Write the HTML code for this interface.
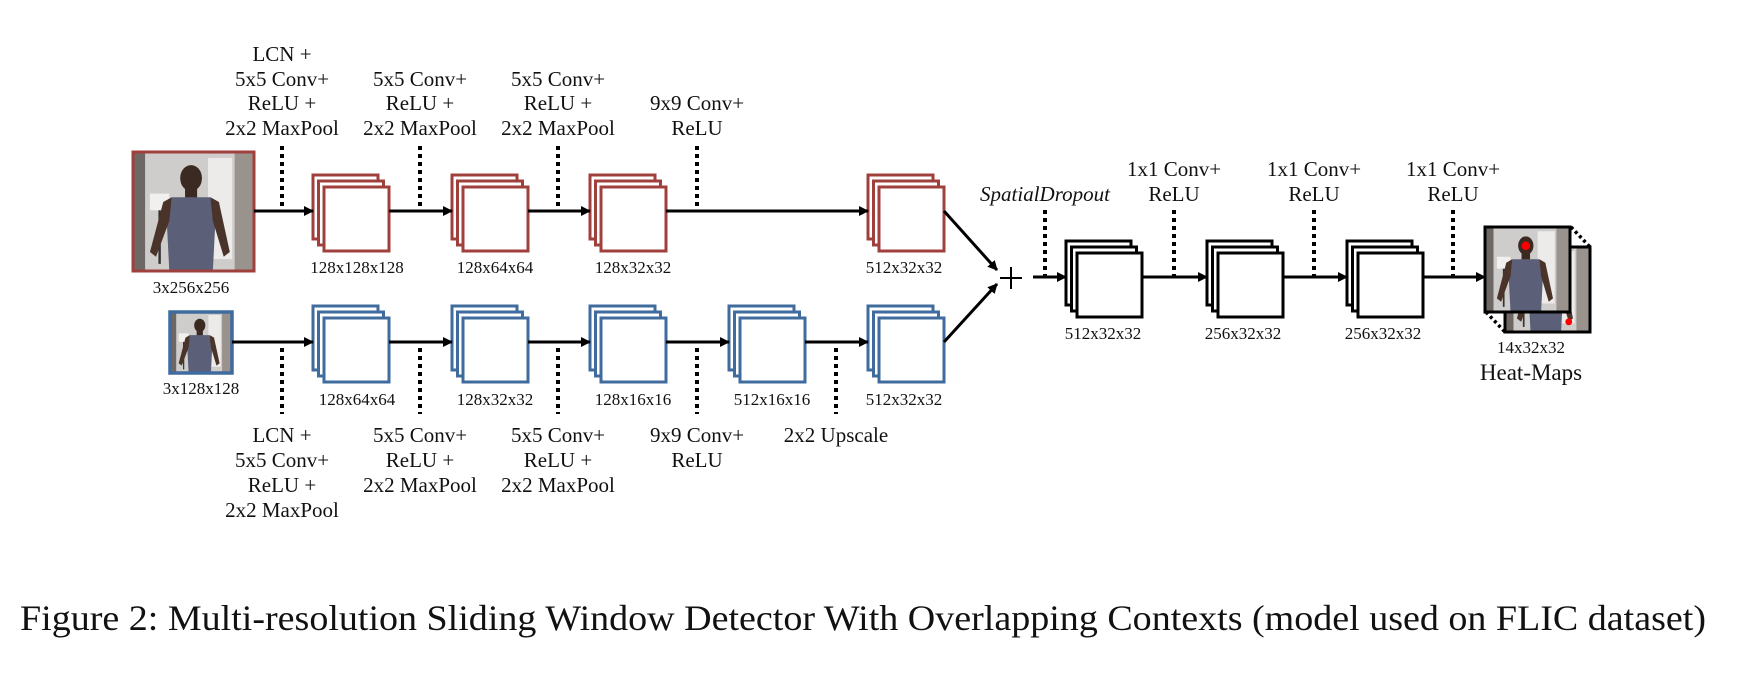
<!DOCTYPE html>
<html><head><meta charset="utf-8"><style>
html,body{margin:0;padding:0;background:#fff;}
svg{display:block;}
text{font-family:"Liberation Serif",serif;fill:#111;}
</style></head><body>
<svg width="1745" height="673" viewBox="0 0 1745 673" xmlns="http://www.w3.org/2000/svg">
<defs>
<marker id="ah" markerWidth="10" markerHeight="10" refX="9" refY="5" orient="auto" markerUnits="userSpaceOnUse">
<path d="M0,0 L10,5 L0,10 z" fill="#000"/>
</marker>
<g id="person">
<rect x="0" y="0" width="100" height="100" fill="#cfcdcb"/>
<rect x="0" y="0" width="10" height="100" fill="#6e6864"/>
<rect x="62" y="5" width="20" height="85" fill="#ecebea"/>
<rect x="84" y="0" width="16" height="100" fill="#9a928c"/>
<rect x="14" y="35" width="16" height="14" fill="#f2f0ee"/>
<rect x="21" y="49" width="2" height="45" fill="#333"/>
<ellipse cx="48" cy="22" rx="9" ry="11" fill="#3b2a22"/>
<rect x="43" y="31" width="10" height="8" fill="#3b2a22"/>
<path d="M32,38 L64,38 L68,60 L66,100 L30,100 L28,60 z" fill="#5b5f78"/>
<path d="M32,38 L25,42 L14,84 L19,88 L30,58 z" fill="#4a3328"/>
<path d="M64,38 L71,42 L80,84 L75,88 L66,58 z" fill="#4a3328"/>
</g>
</defs>

<!-- red input image -->
<svg x="133" y="152" width="121" height="119" viewBox="0 0 100 100" preserveAspectRatio="none"><use href="#person"/></svg>
<rect x="133" y="152" width="121" height="119" fill="none" stroke="#a0403c" stroke-width="3"/>
<text x="191" y="293" font-size="17" text-anchor="middle">3x256x256</text>

<!-- blue input image -->
<svg x="170" y="312" width="62" height="61" viewBox="0 0 100 100" preserveAspectRatio="none"><use href="#person"/></svg>
<rect x="170" y="312" width="62" height="61" fill="none" stroke="#3f6b9e" stroke-width="3.5"/>
<text x="201" y="394" font-size="17" text-anchor="middle">3x128x128</text>

<!-- red stacks -->
<g fill="#fff" stroke="#a0403c" stroke-width="3">
<rect x="313" y="175" width="65" height="64"/><rect x="318.5" y="181" width="65" height="64"/><rect x="324" y="187" width="65" height="64"/>
<rect x="452" y="175" width="65" height="64"/><rect x="457.5" y="181" width="65" height="64"/><rect x="463" y="187" width="65" height="64"/>
<rect x="590" y="175" width="65" height="64"/><rect x="595.5" y="181" width="65" height="64"/><rect x="601" y="187" width="65" height="64"/>
<rect x="868" y="175" width="65" height="64"/><rect x="873.5" y="181" width="65" height="64"/><rect x="879" y="187" width="65" height="64"/>
</g>
<!-- blue stacks -->
<g fill="#fff" stroke="#3f6b9e" stroke-width="3">
<rect x="313" y="306" width="65" height="64"/><rect x="318.5" y="312" width="65" height="64"/><rect x="324" y="318" width="65" height="64"/>
<rect x="452" y="306" width="65" height="64"/><rect x="457.5" y="312" width="65" height="64"/><rect x="463" y="318" width="65" height="64"/>
<rect x="590" y="306" width="65" height="64"/><rect x="595.5" y="312" width="65" height="64"/><rect x="601" y="318" width="65" height="64"/>
<rect x="729" y="306" width="65" height="64"/><rect x="734.5" y="312" width="65" height="64"/><rect x="740" y="318" width="65" height="64"/>
<rect x="868" y="306" width="65" height="64"/><rect x="873.5" y="312" width="65" height="64"/><rect x="879" y="318" width="65" height="64"/>
</g>
<!-- black stacks -->
<g fill="#fff" stroke="#000" stroke-width="3">
<rect x="1066" y="241" width="65" height="64"/><rect x="1071.5" y="247" width="65" height="64"/><rect x="1077" y="253" width="65" height="64"/>
<rect x="1207" y="241" width="65" height="64"/><rect x="1212.5" y="247" width="65" height="64"/><rect x="1218" y="253" width="65" height="64"/>
<rect x="1347" y="241" width="65" height="64"/><rect x="1352.5" y="247" width="65" height="64"/><rect x="1358" y="253" width="65" height="64"/>
</g>

<!-- arrows -->
<g stroke="#000" stroke-width="3" marker-end="url(#ah)">
<line x1="254" y1="211" x2="313" y2="211"/>
<line x1="389" y1="211" x2="452" y2="211"/>
<line x1="528" y1="211" x2="590" y2="211"/>
<line x1="666" y1="211" x2="868" y2="211"/>
<line x1="232" y1="342" x2="313" y2="342"/>
<line x1="389" y1="342" x2="452" y2="342"/>
<line x1="528" y1="342" x2="590" y2="342"/>
<line x1="666" y1="342" x2="729" y2="342"/>
<line x1="805" y1="342" x2="868" y2="342"/>
<line x1="944" y1="211" x2="997" y2="270"/>
<line x1="944" y1="342" x2="997" y2="284"/>
<line x1="1033" y1="277" x2="1066" y2="277"/>
<line x1="1142" y1="277" x2="1207" y2="277"/>
<line x1="1282" y1="277" x2="1347" y2="277"/>
<line x1="1422" y1="277" x2="1485" y2="277"/>
</g>
<!-- plus -->
<g stroke="#000" stroke-width="2">
<line x1="1000" y1="278" x2="1022" y2="278"/><line x1="1011" y1="267" x2="1011" y2="289"/>
</g>

<!-- dotted lines -->
<g stroke="#000" stroke-width="4" stroke-dasharray="4,4">
<line x1="282" y1="146" x2="282" y2="211"/>
<line x1="420" y1="146" x2="420" y2="211"/>
<line x1="558" y1="146" x2="558" y2="211"/>
<line x1="697" y1="146" x2="697" y2="211"/>
<line x1="282" y1="348" x2="282" y2="414"/>
<line x1="420" y1="348" x2="420" y2="414"/>
<line x1="558" y1="348" x2="558" y2="414"/>
<line x1="697" y1="348" x2="697" y2="414"/>
<line x1="836" y1="348" x2="836" y2="414"/>
<line x1="1045" y1="210" x2="1045" y2="277"/>
<line x1="1174" y1="210" x2="1174" y2="277"/>
<line x1="1314" y1="210" x2="1314" y2="277"/>
<line x1="1453" y1="210" x2="1453" y2="277"/>
</g>

<!-- size labels -->
<g font-size="17" text-anchor="middle">
<text x="357" y="273">128x128x128</text>
<text x="495" y="273">128x64x64</text>
<text x="633" y="273">128x32x32</text>
<text x="904" y="273">512x32x32</text>
<text x="357" y="405">128x64x64</text>
<text x="495" y="405">128x32x32</text>
<text x="633" y="405">128x16x16</text>
<text x="772" y="405">512x16x16</text>
<text x="904" y="405">512x32x32</text>
<text x="1103" y="339">512x32x32</text>
<text x="1243" y="339">256x32x32</text>
<text x="1383" y="339">256x32x32</text>
<text x="1531" y="353">14x32x32</text>
</g>
<text x="1531" y="380" font-size="23" text-anchor="middle">Heat-Maps</text>

<!-- top op labels -->
<g font-size="21" text-anchor="middle">
<text x="282" y="61">LCN +</text>
<text x="282" y="86">5x5 Conv+</text>
<text x="282" y="110">ReLU +</text>
<text x="282" y="135">2x2 MaxPool</text>
<text x="420" y="86">5x5 Conv+</text>
<text x="420" y="110">ReLU +</text>
<text x="420" y="135">2x2 MaxPool</text>
<text x="558" y="86">5x5 Conv+</text>
<text x="558" y="110">ReLU +</text>
<text x="558" y="135">2x2 MaxPool</text>
<text x="697" y="110">9x9 Conv+</text>
<text x="697" y="135">ReLU</text>
<text x="282" y="442">LCN +</text>
<text x="282" y="467">5x5 Conv+</text>
<text x="282" y="492">ReLU +</text>
<text x="282" y="517">2x2 MaxPool</text>
<text x="420" y="442">5x5 Conv+</text>
<text x="420" y="467">ReLU +</text>
<text x="420" y="492">2x2 MaxPool</text>
<text x="558" y="442">5x5 Conv+</text>
<text x="558" y="467">ReLU +</text>
<text x="558" y="492">2x2 MaxPool</text>
<text x="697" y="442">9x9 Conv+</text>
<text x="697" y="467">ReLU</text>
<text x="836" y="442">2x2 Upscale</text>
<text x="1045" y="201" font-style="italic">SpatialDropout</text>
<text x="1174" y="176">1x1 Conv+</text>
<text x="1174" y="201">ReLU</text>
<text x="1314" y="176">1x1 Conv+</text>
<text x="1314" y="201">ReLU</text>
<text x="1453" y="176">1x1 Conv+</text>
<text x="1453" y="201">ReLU</text>
</g>

<!-- heatmaps -->
<svg x="1505" y="247" width="85" height="85" viewBox="0 0 100 100" preserveAspectRatio="none"><use href="#person"/><circle cx="75" cy="88" r="4" fill="#f00"/></svg>
<rect x="1505" y="247" width="85" height="85" fill="none" stroke="#000" stroke-width="3"/>
<svg x="1485" y="227" width="85" height="85" viewBox="0 0 100 100" preserveAspectRatio="none"><use href="#person"/><circle cx="48" cy="22" r="5" fill="#f00"/></svg>
<rect x="1485" y="227" width="85" height="85" fill="none" stroke="#000" stroke-width="3"/>
<g stroke="#000" stroke-width="3.5" stroke-dasharray="3,3">
<line x1="1571" y1="227" x2="1590" y2="247"/>
<line x1="1486" y1="312" x2="1505" y2="332"/>
</g>

<!-- caption -->
<text x="20" y="630" font-size="36" textLength="1686" lengthAdjust="spacingAndGlyphs">Figure 2: Multi-resolution Sliding Window Detector With Overlapping Contexts (model used on FLIC dataset)</text>
</svg>
</body></html>
